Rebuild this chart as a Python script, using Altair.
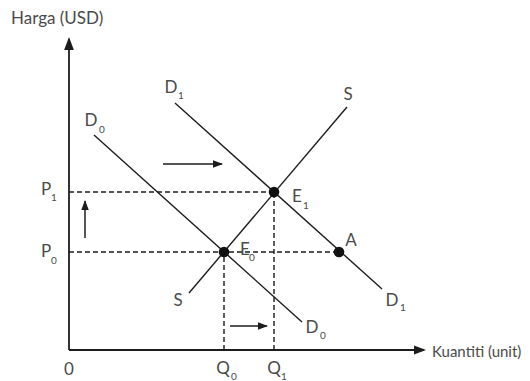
import altair as alt
import pandas as pd

# ---- data (quantity units, price units) ----
curve_names = ["S", "S", "D0", "D0", "D1", "D1"]
curve_q = [24.0, 55.6, 5.0, 46.6, 21.2, 62.6]
curve_p = [11.4, 48.6, 43.0, 5.6, 49.4, 12.2]

axis_names = ["y", "y", "x", "x"]
axis_q = [0.0, 0.0, 0.0, 71.0]
axis_p = [62.2, 0.0, 0.0, 0.0]

guide_names = ["P1", "P1", "P0", "P0", "Q0", "Q0", "Q1", "Q1"]
guide_q = [0.0, 41.0, 0.0, 54.0, 31.0, 31.0, 41.0, 41.0]
guide_p = [31.6, 31.6, 19.6, 19.6, 0.0, 19.6, 0.0, 31.6]

shift_names = ["demand", "demand", "price", "price", "qty", "qty"]
shift_q = [18.8, 30.6, 3.2, 3.2, 32.2, 39.6]
shift_p = [37.2, 37.2, 22.4, 29.8, 4.8, 4.8]

head_q = [30.8, 3.2, 39.8, 71.4, 0.0]
head_p = [37.2, 30.0, 4.8, 0.0, 62.6]
head_dir = ["right", "up", "right", "right", "up"]
head_len = [10, 10, 10, 12, 13]

point_names = ["E0", "E1", "A"]
point_q = [31.0, 41.0, 54.0]
point_p = [19.6, 31.6, 19.6]

label_text = ["Harga (USD)", "Kuantiti (unit)", "0", "Q", "Q", "P", "P", "D", "D",
              "S", "S", "E", "E", "A", "D", "D"]
label_q = [-11.6, 72.6, 0.0, 30.8, 41.0, -4.6, -4.6, 4.4, 20.4,
           55.8, 21.8, 45.6, 35.2, 56.4, 64.6, 48.6]
label_p = [66.2, -0.4, -4.0, -3.8, -3.8, 32.0, 19.6, 45.8, 52.4,
           51.0, 9.8, 30.6, 20.0, 21.8, 9.8, 4.4]
label_size = [17, 15] + [17] * 14

sub_text = ["0", "1", "1", "0", "0", "1", "1", "0", "1", "0"]
sub_q = [33.0, 43.0, -3.0, -3.0, 6.6, 22.4, 47.4, 36.6, 66.8, 50.8]
sub_p = [-5.4, -5.4, 30.4, 17.8, 44.0, 50.8, 28.8, 18.4, 8.4, 2.8]

# ---- tables ----
curves = pd.DataFrame({"name": curve_names, "q": curve_q, "p": curve_p})
axes = pd.DataFrame({"name": axis_names, "q": axis_q, "p": axis_p})
guides = pd.DataFrame({"name": guide_names, "q": guide_q, "p": guide_p})
shifts = pd.DataFrame({"name": shift_names, "q": shift_q, "p": shift_p})
paths = {"right": "M0,0L-2,-0.75L-2,0.75Z", "up": "M0,0L-0.75,2L0.75,2Z"}
heads = pd.DataFrame({"q": head_q, "p": head_p,
                      "shape": [paths[d] for d in head_dir],
                      "size": [l * l for l in head_len]})
points = pd.DataFrame({"name": point_names, "q": point_q, "p": point_p})
labels = pd.DataFrame({"t": label_text, "q": label_q, "p": label_p, "fs": label_size})
subs = pd.DataFrame({"t": sub_text, "q": sub_q, "p": sub_p})

X = alt.X("q:Q", scale=alt.Scale(domain=[-12.2, 90.6], nice=False, zero=False), axis=None)
Y = alt.Y("p:Q", scale=alt.Scale(domain=[-6.2, 68.4], nice=False, zero=False), axis=None)

INK = "#1c1c1c"
TXT = "#4a4a4a"
FONT = "Lato"

curve_layer = alt.Chart(curves).mark_line(color=INK, strokeWidth=1.4).encode(x=X, y=Y, detail="name:N")
axis_layer = alt.Chart(axes).mark_line(color=INK, strokeWidth=1.8).encode(x=X, y=Y, detail="name:N")
guide_layer = alt.Chart(guides).mark_line(color=INK, strokeWidth=1.4, strokeDash=[5, 3]).encode(x=X, y=Y, detail="name:N")
shift_layer = alt.Chart(shifts).mark_line(color=INK, strokeWidth=1.5).encode(x=X, y=Y, detail="name:N")
head_layer = alt.Chart(heads).mark_point(filled=True, color=INK, opacity=1, strokeWidth=0).encode(
    x=X, y=Y,
    shape=alt.Shape("shape:N", scale=None),
    size=alt.Size("size:Q", scale=None),
)
point_layer = alt.Chart(points).mark_circle(color="#111111", opacity=1, size=113).encode(x=X, y=Y)

left_labels = alt.Chart(labels.iloc[:2]).mark_text(
    align="left", baseline="middle", font=FONT, fontWeight="normal", color=TXT
).encode(x=X, y=Y, text="t:N", size=alt.Size("fs:Q", scale=None))
center_labels = alt.Chart(labels.iloc[2:]).mark_text(
    align="center", baseline="middle", font=FONT, fontWeight="normal", color=TXT
).encode(x=X, y=Y, text="t:N", size=alt.Size("fs:Q", scale=None))
sub_labels = alt.Chart(subs).mark_text(
    align="center", baseline="middle", font=FONT, fontSize=10, fontWeight="normal", color=TXT
).encode(x=X, y=Y, text="t:N")

chart = alt.layer(
    guide_layer, curve_layer, axis_layer, shift_layer, head_layer, point_layer,
    left_labels, center_labels, sub_labels
).properties(
    width=514, height=373, padding=0, autosize=alt.AutoSizeParams(type="none")
).configure_view(stroke=None)

chart.save("out.html", embed_options={"renderer": "svg", "actions": False})
